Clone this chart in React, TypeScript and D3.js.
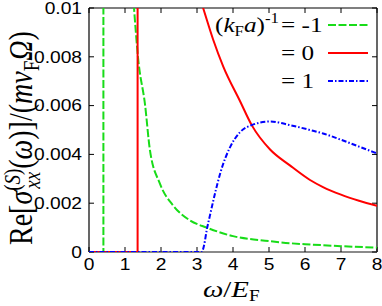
import React from "react";
import * as d3 from "d3";

// ---- data ----
const xTicks = [0, 1, 2, 3, 4, 5, 6, 7, 8];
const yTicks = [0, 0.002, 0.004, 0.006, 0.008, 0.01];
const yTickLabels = ["0", "0.002", "0.004", "0.006", "0.008", "0.01"];

// (kF a)^-1 = -1  (green)
const greenSpikeX = [0, 0.4, 0.4];
const greenSpikeY = [0, 0, 0.0106];
const greenCurveX = [1.22, 1.25, 1.36, 1.56, 1.69, 1.97, 2.34, 2.8, 3.27, 4, 5, 5.58, 6, 7, 8];
const greenCurveY = [0.0106, 0.01, 0.008, 0.006, 0.0042, 0.0028, 0.0019, 0.0013, 0.001, 0.00065, 0.00045, 0.00036, 0.00032, 0.00024, 0.00018];

// (kF a)^-1 = 0  (red)
const redSpikeX = [0, 1.35, 1.35];
const redSpikeY = [0, 0, 0.0106];
const redCurveX = [3.04, 3.17, 3.45, 3.73, 4.19, 4.52, 5.03, 5.58, 6.14, 6.5, 7, 7.5, 8];
const redCurveY = [0.0106, 0.01, 0.0087, 0.0076, 0.0062, 0.0052, 0.0042, 0.00355, 0.00295, 0.00266, 0.00235, 0.0021, 0.00189];

// (kF a)^-1 = 1  (blue)
const blueX = [0, 3.13, 3.2, 3.27, 3.36, 3.5, 3.64, 3.8, 3.92, 4.19, 4.52, 5.03, 5.58, 6.14, 6.5, 7, 7.5, 8];
const blueY = [0, 0, 0.0003, 0.0009, 0.0015, 0.0024, 0.0032, 0.0039, 0.0043, 0.0049, 0.0052, 0.00535, 0.0052, 0.005, 0.00486, 0.0046, 0.00432, 0.00404];

const W = 382;
const H = 306;
const SX = 1.2; // horizontal text stretch

const GREEN = "#18dc18";
const RED = "#ff0000";
const BLUE = "#0000ff";

const x = d3.scaleLinear().domain([0, 8]).range([89, 377]);
const y = d3.scaleLinear().domain([0, 0.01]).range([252, 8]);

const zip = (xs: number[], ys: number[]) => xs.map((v, i) => [v, ys[i]] as [number, number]);

const lineLin = d3.line<[number, number]>().x(d => x(d[0])).y(d => y(d[1]));
const lineSmooth = d3
  .line<[number, number]>()
  .x(d => x(d[0]))
  .y(d => y(d[1]))
  .curve(d3.curveMonotoneX);

const SANS = "Liberation Sans, Arial, sans-serif";
const SERIF = "Liberation Serif, Times New Roman, serif";

function SText(props: { x: number; y: number; anchor?: string; size: number; family: string; children: any }) {
  return (
    <g transform={`translate(${props.x},${props.y}) scale(${SX},1)`}>
      <text textAnchor={props.anchor || "start"} fontSize={props.size} fontFamily={props.family} fill="#000">
        {props.children}
      </text>
    </g>
  );
}

export default function App() {
  const [x0, x1] = x.range();
  const [yb, yt] = y.range();
  const tick = 5;
  return (
    <svg
      width={W}
      height={H}
      viewBox={`0 0 ${W} ${H}`}
      style={{ position: "absolute", left: 0, top: 0, background: "#fff" }}
    >
      <defs>
        <clipPath id="plotclip">
          <rect x={x0} y={yt} width={x1 - x0} height={yb - yt} />
        </clipPath>
      </defs>
      {/* frame */}
      <line x1={x0} y1={yt} x2={x1} y2={yt} stroke="#000" strokeWidth={1.2} />
      <line x1={x0} y1={yt} x2={x0} y2={yb} stroke="#000" strokeWidth={1.2} />
      <line x1={x1} y1={yt} x2={x1} y2={yb} stroke="#000" strokeWidth={1.2} />
      <line x1={x0} y1={yb} x2={x1} y2={yb} stroke="#8a8a8a" strokeWidth={2} />
      {/* ticks */}
      {xTicks.map(t => (
        <g key={"xt" + t}>
          <line x1={x(t)} x2={x(t)} y1={yb} y2={yb - tick} stroke="#000" strokeWidth={1} />
          <line x1={x(t)} x2={x(t)} y1={yt} y2={yt + tick} stroke="#000" strokeWidth={1} />
          <SText x={x(t)} y={270} anchor="middle" size={16} family={SANS}>
            {String(t)}
          </SText>
        </g>
      ))}
      {yTicks.map((t, i) => (
        <g key={"yt" + i}>
          <line x1={x0} x2={x0 + tick} y1={y(t)} y2={y(t)} stroke="#000" strokeWidth={1} />
          <line x1={x1} x2={x1 - tick} y1={y(t)} y2={y(t)} stroke="#000" strokeWidth={1} />
          <SText x={82} y={y(t) + 5.8} anchor="end" size={16} family={SANS}>
            {yTickLabels[i]}
          </SText>
        </g>
      ))}
      {/* data */}
      <g clipPath="url(#plotclip)" fill="none" strokeWidth={2}>
        <path d={lineLin(zip(greenSpikeX, greenSpikeY)) || ""} stroke={GREEN} strokeDasharray="8,2.5" />
        <path d={lineSmooth(zip(greenCurveX, greenCurveY)) || ""} stroke={GREEN} strokeDasharray="8,2.5" />
        <path d={lineLin(zip(redSpikeX, redSpikeY)) || ""} stroke={RED} />
        <path d={lineSmooth(zip(redCurveX, redCurveY)) || ""} stroke={RED} />
        <path d={lineSmooth(zip(blueX, blueY)) || ""} stroke={BLUE} strokeDasharray="5,2,1.5,2" />
      </g>
      {/* legend */}
      <SText x={215} y={32} size={21} family={SERIF}>
        <tspan>(</tspan>
        <tspan fontStyle="italic">k</tspan>
        <tspan fontSize={14} dy={4}>F</tspan>
        <tspan fontStyle="italic" dy={-4}>a</tspan>
        <tspan>)</tspan>
        <tspan fontSize={14} dy={-9}>-1</tspan>
      </SText>
      <SText x={281} y={32} size={21} family={SERIF}>= -1</SText>
      <SText x={281} y={60} size={21} family={SERIF}>= 0</SText>
      <SText x={281} y={88} size={21} family={SERIF}>= 1</SText>
      <line x1={328} x2={368} y1={25} y2={25} stroke={GREEN} strokeWidth={2} strokeDasharray="8,2.5" />
      <line x1={328} x2={368} y1={53} y2={53} stroke={RED} strokeWidth={2} />
      <line x1={328} x2={368} y1={81} y2={81} stroke={BLUE} strokeWidth={2} strokeDasharray="5,2,1.5,2" />
      {/* x label */}
      <SText x={203} y={297} size={24} family={SERIF}>
        <tspan fontStyle="italic">ω</tspan>
        <tspan>/</tspan>
        <tspan fontStyle="italic">E</tspan>
        <tspan fontSize={16} dy={4}>F</tspan>
      </SText>
      {/* y label */}
      <g transform={`translate(32,245) scale(${SX},1) rotate(-90)`}>
        <text fontSize={28} fontFamily={SERIF} fill="#000">
          <tspan>Re[</tspan>
          <tspan fontStyle="italic">σ</tspan>
          <tspan fontSize={19} dy={-10}>(</tspan>
          <tspan fontSize={19} fontStyle="italic">S</tspan>
          <tspan fontSize={19}>)</tspan>
          <tspan fontSize={19} fontStyle="italic" dx={-20} dy={17}>xx</tspan>
          <tspan dy={-7} dx={3}>(</tspan>
          <tspan fontStyle="italic">ω</tspan>
          <tspan>)]/(</tspan>
          <tspan fontStyle="italic">mv</tspan>
          <tspan fontSize={19} dy={6}>F</tspan>
          <tspan fontStyle="italic" dy={-6}>Ω</tspan>
          <tspan>)</tspan>
        </text>
      </g>
    </svg>
  );
}
